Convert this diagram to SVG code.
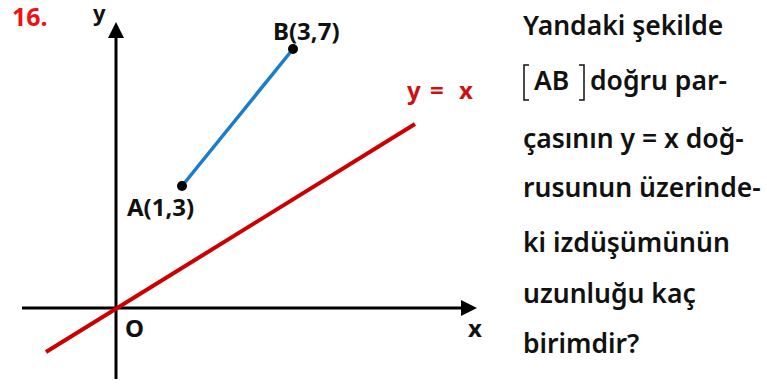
<svg xmlns="http://www.w3.org/2000/svg" width="767" height="385" viewBox="0 0 767 385">
<style>
text{font-family:"Noto Sans","Open Sans","DejaVu Sans",sans-serif;font-weight:bold}
.lbl{font-size:24px;fill:#111}
.q{font-size:26.5px;font-weight:600;fill:#111}
.axis{stroke:#000;stroke-width:3;fill:none}
</style>
<defs>
<marker id="arr" markerWidth="16" markerHeight="16" refX="0" refY="8" orient="auto" markerUnits="userSpaceOnUse">
<path d="M0,0 L16,8 L0,16 Z" fill="#000"/>
</marker>
</defs>
<rect width="767" height="385" fill="#fff"/>
<text x="12" y="26" style="font-size:25px;fill:#ee1111">16.</text>
<g id="connectors">
<line class="axis" x1="116" y1="379" x2="116" y2="38" marker-end="url(#arr)"/>
<line class="axis" x1="22" y1="308" x2="461" y2="308" marker-end="url(#arr)"/>
<line x1="46" y1="352" x2="415" y2="124" stroke="#cc0000" stroke-width="4"/>
<line x1="182" y1="186" x2="293" y2="49" stroke="#1a7ccc" stroke-width="3.5"/>
</g>
<g id="axis-labels">
<text class="lbl" x="93" y="21" style="font-size:22px">y</text>
<text class="lbl" x="468" y="337">x</text>
<text class="lbl" x="125" y="337">O</text>
</g>
<g id="line-label" style="fill:#cc1111"><text class="lbl" x="407" y="99" style="fill:#cc1111">y</text><text class="lbl" x="430" y="99" style="fill:#cc1111">=</text><text class="lbl" x="459" y="99" style="fill:#cc1111">x</text></g>
<g id="pointA"><circle cx="182" cy="186" r="5" fill="#000"/><text class="lbl" x="127" y="216">A(1,3)</text></g>
<g id="pointB"><circle cx="293" cy="49" r="5" fill="#000"/><text class="lbl" x="273" y="40">B(3,7)</text></g>
<g id="question">
<text class="q" x="523" y="35">Yandaki şekilde</text>
<path d="M529,65 H524 V100 H529 M579,65 H584 V100 H579" stroke="#111" stroke-width="1.5" fill="none"/>
<text class="q" x="534" y="90">AB</text>
<text class="q" x="590" y="90">doğru par-</text>
<text class="q" x="523" y="148">çasının y = x doğ-</text>
<text class="q" x="523" y="197">rusunun üzerinde-</text>
<text class="q" x="523" y="252">ki izdüşümünün</text>
<text class="q" x="523" y="303">uzunluğu kaç</text>
<text class="q" x="523" y="353">birimdir?</text>
</g>
</svg>
